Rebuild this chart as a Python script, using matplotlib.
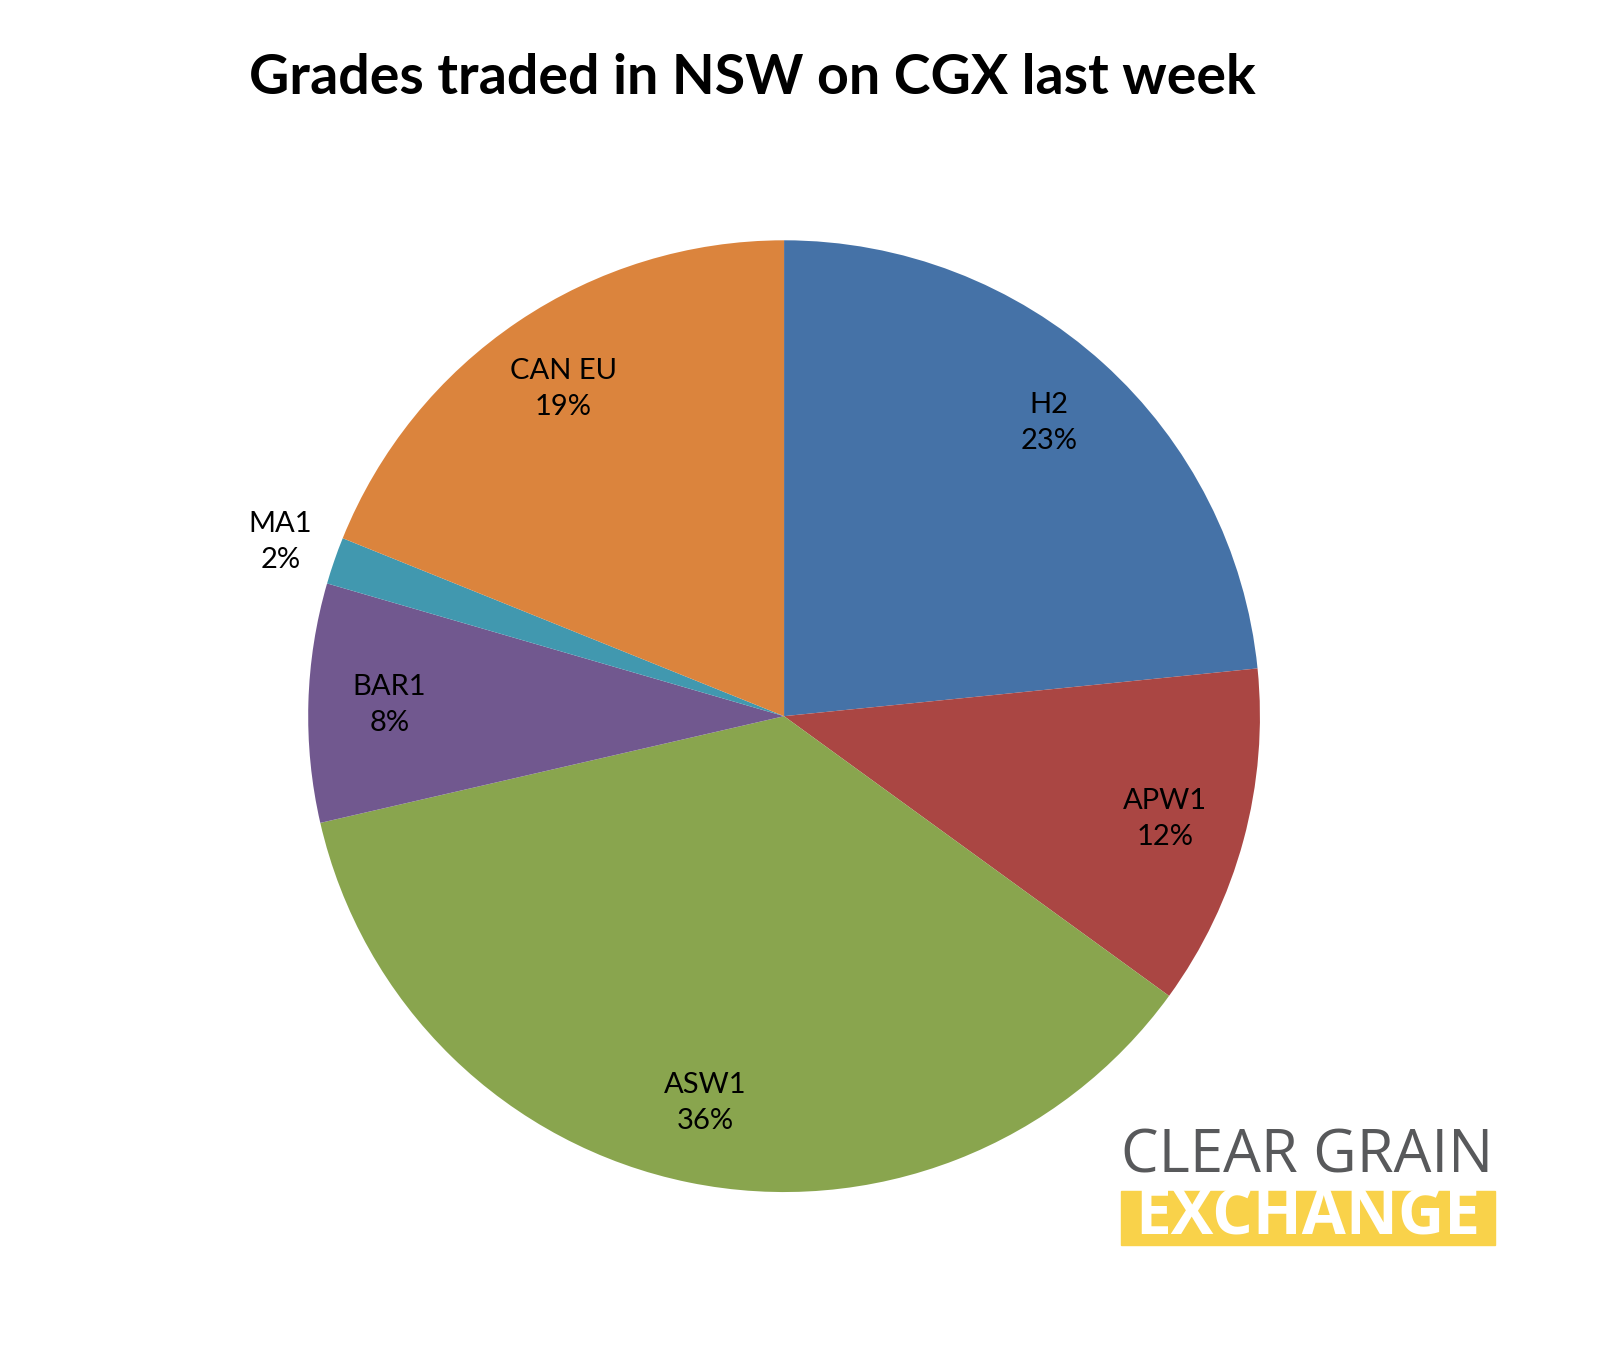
import matplotlib
matplotlib.use("Agg")
import matplotlib.pyplot as plt
from matplotlib.patches import Rectangle
import numpy as np

grades = ["H2", "APW1", "ASW1", "BAR1", "MA1", "CAN EU"]
shares = [23.4, 11.6, 36.4, 8.1, 1.6, 18.9]
colors = ["#4572A7", "#AA4643", "#89A54E", "#71588F", "#4198AF", "#DB843D"]

plt.rcParams["font.family"] = ["Lato", "DejaVu Sans"]
fig = plt.figure(figsize=(16.08, 13.5), dpi=100)
ax = fig.add_axes([0.1916, 0.117, 0.592, 0.705])
wedges, _ = ax.pie(shares, colors=colors, startangle=90, counterclock=False,
                   wedgeprops=dict(linewidth=0))
for w, g, s in zip(wedges, grades, shares):
    ang = np.deg2rad((w.theta1 + w.theta2) / 2)
    r = 1.12 if g == "MA1" else 0.83
    ax.text(r * np.cos(ang), r * np.sin(ang), f"{g}\n{round(s):.0f}%",
            ha="center", va="center", fontsize=21, linespacing=1.5)
ax.set_xlim(-1, 1)
ax.set_ylim(-1, 1)
ax.set_aspect("equal")

fig.text(0.468, 0.942, "Grades traded in NSW on CGX last week", ha="center", va="center",
         fontsize=40, fontweight="bold")

# logo
fig.text(0.813, 0.143, "CLEAR GRAIN", ha="center", va="center", fontsize=43,
         color="#58595B", family=["Open Sans", "DejaVu Sans"])
fig.patches.append(Rectangle((0.697, 0.078), 0.233, 0.040, transform=fig.transFigure,
                             color="#F9D24A", zorder=0))
fig.text(0.8135, 0.0975, "EXCHANGE", ha="center", va="center", fontsize=46,
         fontweight="bold", color="white", family=["Open Sans", "DejaVu Sans"])

fig.savefig("out.png", dpi=100, facecolor="white")
